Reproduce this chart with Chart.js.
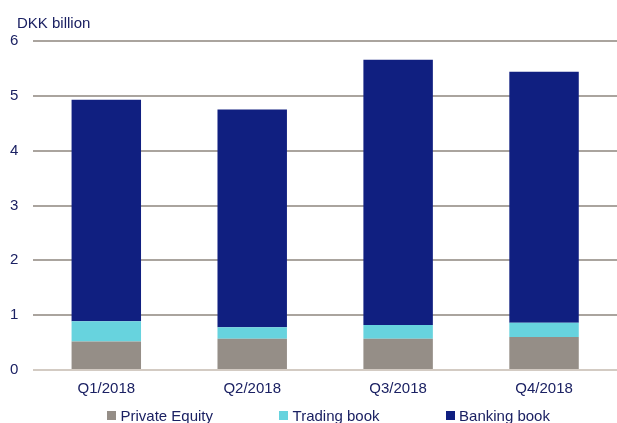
<!DOCTYPE html>
<html>
<head>
<meta charset="utf-8">
<script src="https://cdn.jsdelivr.net/npm/chart.js@4"></script>
<style>
    html, body { margin: 0; padding: 0; background: #fff; overflow: hidden; }
    #wrap { position: relative; width: 617px; height: 423px; }
    #legend {
        position: absolute; left: 107px; top: 408px; height: 15px;
        display: flex; gap: 66px;
        font: 15px Arial, "Liberation Sans", sans-serif; color: #1b2163;
    }
    .legend-item { display: flex; align-items: center; line-height: 15px; white-space: nowrap; }
    .legend-box { width: 9px; height: 9px; margin-right: 4.5px; }
</style>
</head>
<body>
<div id="wrap">
    <canvas id="chart" width="617" height="423"></canvas>
    <div id="legend"></div>
</div>
<script>
const categories = ['Q1/2018', 'Q2/2018', 'Q3/2018', 'Q4/2018'];
const privateEquity = [0.52, 0.57, 0.57, 0.60];
const tradingBook = [0.37, 0.21, 0.25, 0.26];
const bankingBook = [4.04, 3.97, 4.84, 4.58];
const yTicks = [0, 1, 2, 3, 4, 5, 6];

const textColor = '#1b2163';
const fontFamily = 'Arial, "Liberation Sans", sans-serif';

const unitLabel = {
    id: 'unitLabel',
    afterDraw(chart) {
        const ctx = chart.ctx;
        ctx.save();
        ctx.font = '15px ' + fontFamily;
        ctx.fillStyle = textColor;
        ctx.textAlign = 'left';
        ctx.textBaseline = 'alphabetic';
        ctx.fillText('DKK billion', 17, 28);
        ctx.restore();
    }
};

const chart = new Chart(document.getElementById('chart'), {
    type: 'bar',
    data: {
        labels: categories,
        datasets: [
            { label: 'Private Equity', data: privateEquity, backgroundColor: '#958e87' },
            { label: 'Trading book', data: tradingBook, backgroundColor: '#67d3de' },
            { label: 'Banking book', data: bankingBook, backgroundColor: '#101f80' }
        ]
    },
    options: {
        responsive: false,
        animation: false,
        // y-axis width is label + 2*padding, so left padding goes negative
        layout: { autoPadding: false, padding: { left: -5, right: -3, top: 41, bottom: 15 } },
        datasets: {
            bar: { barPercentage: 0.476, categoryPercentage: 1, borderWidth: 0 }
        },
        plugins: {
            legend: { display: false },
            tooltip: { enabled: false }
        },
        scales: {
            x: {
                stacked: true,
                grid: { display: false, drawTicks: false },
                border: { display: false },
                ticks: {
                    color: textColor,
                    padding: 10,
                    maxRotation: 0,
                    font: { size: 15, family: fontFamily }
                }
            },
            y: {
                stacked: true,
                min: 0,
                max: 6,
                afterBuildTicks: axis => {
                    axis.ticks = yTicks.map(v => ({ value: v }));
                },
                border: { display: false },
                grid: {
                    drawTicks: false,
                    lineWidth: 2,
                    color: c => c.tick && c.tick.value === 0 ? '#d3cbc3' : '#aaa49e'
                },
                ticks: {
                    color: textColor,
                    padding: 15,
                    font: { size: 15, family: fontFamily }
                }
            }
        }
    },
    plugins: [unitLabel]
});

const legendEl = document.getElementById('legend');
chart.data.datasets.forEach(ds => {
    const item = document.createElement('div');
    item.className = 'legend-item';
    item.innerHTML = `<span class="legend-box" style="background:${ds.backgroundColor}"></span><span>${ds.label}</span>`;
    legendEl.appendChild(item);
});
</script>
</body>
</html>
